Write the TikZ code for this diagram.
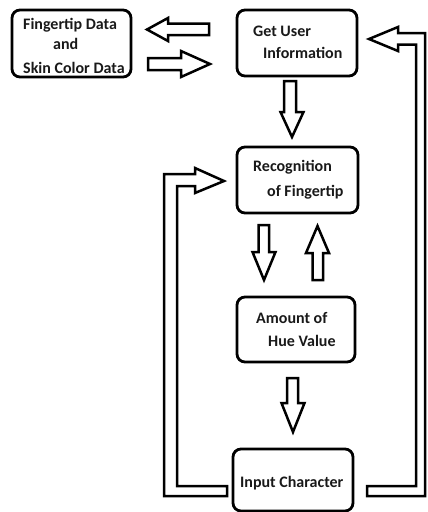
\documentclass[tikz,border=0pt]{standalone}
\usepackage{fontspec}
\setmainfont{Carlito}
\begin{document}
\begin{tikzpicture}[x=1pt,y=-1pt,
  box/.style={draw=black,line width=2.8pt,rounded corners=8pt},
  blk/.style={draw=black,line width=2.5pt,fill=white,line join=miter},
  lbl/.style={anchor=west,inner sep=0pt,text=black!90,font=\fontsize{16}{18}\selectfont\bfseries}]
\useasboundingbox (0,0) rectangle (428,512);
% boxes
\draw[box] (12,10) rectangle (131,77);
\draw[box] (237,10) rectangle (357,76);
\draw[box] (237,147) rectangle (358,213);
\draw[box] (237,297) rectangle (355,362);
\draw[box] (233,449) rectangle (353,511);
% texts
\node[lbl] (t1) at (23,25) {Fingertip Data};
\node[lbl] (t2) at (53,44) {and};
\node[lbl] (t3) at (23,68) {Skin Color Data};
\node[lbl] (g1) at (253,31) {Get User};
\node[lbl] (g2) at (263,53) {Information};
\node[lbl] (r1) at (253,167) {Recognition};
\node[lbl] (r2) at (267,192) {of Fingertip};
\node[lbl] (a1) at (256,318) {Amount of};
\node[lbl] (a2) at (268,341) {Hue Value};
\node[lbl] (i1) at (240,483) {Input Character};
% block arrows
\draw[blk] (209,23.5) -- (168,23.5) -- (168,18) -- (147,29.5) -- (168,41) -- (168,35) -- (209,35) -- cycle;
\draw[blk] (148,58) -- (181,58) -- (181,51) -- (210,64) -- (181,77) -- (181,70) -- (148,70) -- cycle;
\draw[blk] (284,81) -- (296,81) -- (296,112) -- (303.5,112) -- (292,137) -- (280.5,112) -- (284,112) -- cycle;
\draw[blk] (258.5,225) -- (269,225) -- (269,252) -- (275.5,252) -- (264,280) -- (252.5,252) -- (258.5,252) -- cycle;
\draw[blk] (312.5,280) -- (323,280) -- (323,253) -- (329,253) -- (317.5,226) -- (306,253) -- (312.5,253) -- cycle;
\draw[blk] (287,378) -- (298,378) -- (298,403) -- (304.5,403) -- (293,432) -- (281.5,403) -- (287,403) -- cycle;
% loops
\draw[blk] (227,496) -- (164,496) -- (164,174) -- (195,174) -- (195,168) -- (224,181) -- (195,193) -- (195,186) -- (177,186) -- (177,486) -- (227,486) -- cycle;
\draw[blk] (367,486) -- (416,486) -- (416,44.5) -- (398,44.5) -- (398,51) -- (369,39) -- (398,27) -- (398,33) -- (425,33) -- (425,496) -- (367,496) -- cycle;
\end{tikzpicture}
\end{document}
